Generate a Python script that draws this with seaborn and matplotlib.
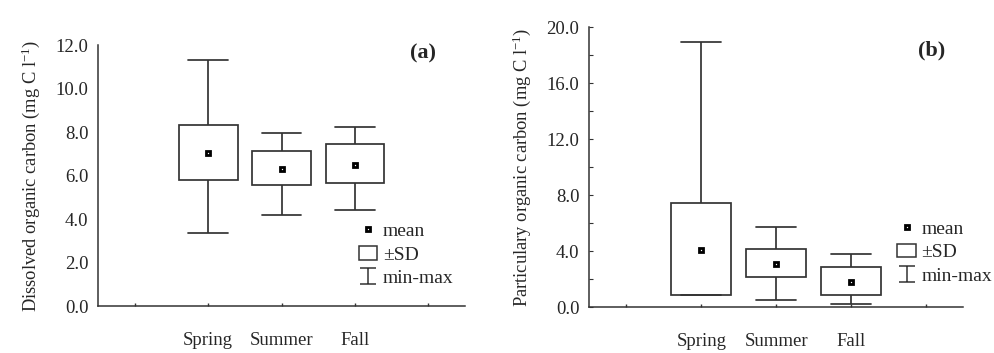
import numpy as np
import pandas as pd
import matplotlib
matplotlib.use("Agg")
import matplotlib.pyplot as plt
from matplotlib.lines import Line2D
from matplotlib.patches import Patch
from matplotlib.path import Path
import seaborn as sns

sns.set_style("ticks")
plt.rcParams['font.family'] = ['Liberation Serif', 'DejaVu Serif']
plt.rcParams['mathtext.fontset'] = 'custom'
plt.rcParams['mathtext.rm'] = 'Liberation Serif'
plt.rcParams['mathtext.it'] = 'Liberation Serif:italic'

# 数据
seasons = ["Spring", "Summer", "Fall"]
order = ["", "Spring", "Summer", "Fall", " "]

doc_mean = [7.05, 6.31, 6.50]
doc_sd_lo = [5.82, 5.56, 5.66]
doc_sd_hi = [8.32, 7.13, 7.45]
doc_min = [3.34, 4.18, 4.41]
doc_max = [11.34, 7.94, 8.23]

poc_mean = [4.10, 3.05, 1.79]
poc_sd_lo = [0.86, 2.12, 0.83]
poc_sd_hi = [7.45, 4.12, 2.88]
poc_min = [0.86, 0.50, 0.19]
poc_max = [18.93, 5.71, 3.81]

line_c = '#333333'


def make_long(mn, lo, mu, hi, mx):
    # five points per season -> quartiles land on mean +/- SD, whiskers on min/max
    rows = []
    for i, s in enumerate(seasons):
        for v in (mn[i], lo[i], mu[i], hi[i], mx[i]):
            rows.append({'season': s, 'value': v})
    return pd.DataFrame(rows)


# min-max legend symbol
cap_path = Path([(-0.5, 0.45), (0.5, 0.45), (0, 0.45), (0, -0.45), (-0.5, -0.45), (0.5, -0.45)],
                [Path.MOVETO, Path.LINETO, Path.MOVETO, Path.LINETO, Path.MOVETO, Path.LINETO])


def draw_panel(ax, mn, lo, mu, hi, mx, ymax, major, minor, ylabel, tag, tagpos, legpos):
    df = make_long(mn, lo, mu, hi, mx)
    sns.boxplot(data=df, x='season', y='value', order=order, ax=ax,
                color='white', linecolor=line_c, linewidth=1.25, width=0.8,
                whis=(0, 100), saturation=1, showfliers=False,
                medianprops={'visible': False}, capwidths=0.54)
    pos = [order.index(s) for s in seasons]
    ax.plot(pos, mu, ls='none', marker='s', ms=3.5, mfc='white', mec='black', mew=2, zorder=5)

    ax.set_xlim(-0.5, 4.5)
    ax.set_ylim(0, ymax)
    ax.set_xticks(range(5))
    ax.set_xticklabels(order)
    ax.set_yticks(np.arange(0, ymax + 0.01, major))
    ax.set_yticklabels([f"{v:.1f}" for v in np.arange(0, ymax + 0.01, major)])
    if minor:
        ax.set_yticks(np.arange(0, ymax + 0.01, minor), minor=True)
    ax.tick_params(axis='x', direction='in', length=2, width=1, pad=19, labelsize=13.5, color=line_c)
    ax.tick_params(axis='y', which='both', direction='in', length=3 if minor else 0,
                   width=0.8, pad=7, labelsize=13.5, color=line_c)
    ax.set_xlabel("")
    ax.set_ylabel(ylabel, fontsize=13.3, labelpad=10)
    for side in ['top', 'right']:
        ax.spines[side].set_visible(False)
    for side in ['left', 'bottom']:
        ax.spines[side].set_color(line_c)
        ax.spines[side].set_linewidth(1.1)

    ax.text(tagpos[0], tagpos[1], tag, transform=ax.transAxes, fontsize=16,
            fontweight='bold', ha='center', va='center')

    handles = [
        Line2D([], [], ls='none', marker='s', ms=3.5, mfc='white', mec='black', mew=2),
        Patch(facecolor='white', edgecolor=line_c, linewidth=1.1),
        Line2D([], [], ls='none', marker=cap_path, ms=12, mec=line_c, mew=1.1),
    ]
    ax.legend(handles, ['mean', '\u00b1SD', 'min-max'], loc='upper left',
              bbox_to_anchor=legpos, frameon=False, fontsize=14,
              handlelength=0.95, handleheight=0.7, handletextpad=0.3,
              labelspacing=0.3, borderaxespad=0, borderpad=0)


fig = plt.figure(figsize=(9.95, 3.53), dpi=100)
ax1 = fig.add_axes([0.0985, 0.133, 0.369, 0.739])
ax2 = fig.add_axes([0.592, 0.130, 0.376, 0.793])

draw_panel(ax1, doc_min, doc_sd_lo, doc_mean, doc_sd_hi, doc_max, 12, 2, None,
           "Dissolved organic carbon (mg C l$^{-1}$)", "(a)", (0.885, 0.97), (0.71, 0.32))
draw_panel(ax2, poc_min, poc_sd_lo, poc_mean, poc_sd_hi, poc_max, 20, 4, 2,
           "Particulary organic carbon (mg C l$^{-1}$)", "(b)", (0.915, 0.918), (0.824, 0.31))

fig.savefig('out.png', dpi=100)
